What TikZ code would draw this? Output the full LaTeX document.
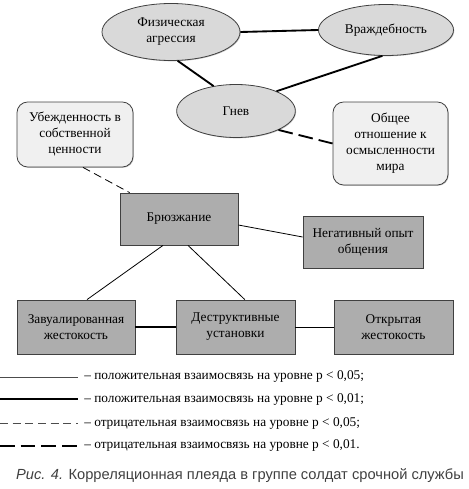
\documentclass[tikz,border=0pt]{standalone}
\usepackage{fontspec}
\setmainfont{Liberation Serif}
\newfontfamily\capfont{Liberation Sans}
\usetikzlibrary{shapes.geometric,shadows}
\begin{document}
\begin{tikzpicture}[x=0.75pt,y=-0.75pt,
 every node/.style={font=\fontsize{10}{12}\selectfont, align=center, inner sep=0pt},
 ell/.style={ellipse, draw=black!75, fill=black!15, line width=0.6pt,
   drop shadow={shadow xshift=0.6pt,shadow yshift=-0.6pt,fill=black!45}},
 soft/.style={rectangle, rounded corners=8pt, draw=black!75, fill=black!6, line width=0.6pt,
   drop shadow={shadow xshift=0.6pt,shadow yshift=-0.6pt,fill=black!45}},
 hard/.style={rectangle, draw=black!75, fill=black!32, line width=0.6pt,
   drop shadow={shadow xshift=0.6pt,shadow yshift=-0.6pt,fill=black!55}},
 pos1/.style={line width=0.6pt},
 pos2/.style={line width=1.4pt},
 neg1/.style={line width=0.6pt, dash pattern=on 6pt off 3.5pt},
 neg2/.style={line width=1.4pt, dash pattern=on 11pt off 4.5pt},
 lbl/.style={anchor=west, font=\fontsize{10}{12}\selectfont}
]
\useasboundingbox (0,0) rectangle (468,489);
% nodes
\node[ell, minimum width=103.5pt, minimum height=42.75pt] (fiz) at (171,32) {Физическая\\агрессия};
\node[ell, minimum width=101.25pt, minimum height=38.25pt] (vrazh) at (386,30) {Враждебность};
\node[ell, minimum width=89pt, minimum height=39.75pt] (gnev) at (236,111) {Гнев};
\node[soft, minimum width=87pt, minimum height=48.75pt] (ubezh) at (75,134.5) {Убежденность в\\собственной\\ценности};
\node[soft, minimum width=86.25pt, minimum height=62.25pt] (obsh) at (390.5,143.5) {Общее\\отношение к\\осмысленности\\мира};
\node[hard, minimum width=88.5pt, minimum height=39pt] (bruzh) at (179,219) {Брюзжание};
\node[hard, minimum width=90pt, minimum height=39pt] (neg) at (363,242) {Негативный опыт\\общения};
\node[hard, minimum width=88.5pt, minimum height=40.5pt] (zav) at (76,327) {Завуалированная\\жестокость};
\node[hard, minimum width=89.25pt, minimum height=40.5pt] (destr) at (235.5,327) {Деструктивные\\установки};
\node[hard, minimum width=89.25pt, minimum height=40.5pt] (otkr) at (393.5,327) {Открытая\\жестокость};
% connectors
\draw[pos2] (fiz.east) -- (vrazh.west);
\draw[pos2] (fiz.-77) -- (gnev.132);
\draw[pos2] (vrazh.-98) -- (gnev.26);
\draw[neg2] (gnev.-24) -- (obsh.west);
\draw[neg1] ([xshift=6pt]ubezh.south) -- ([xshift=7.5pt]bruzh.north west);
\draw[pos1] ([yshift=-4.5pt]bruzh.east) -- ([yshift=3.75pt]neg.west);
\draw[pos1] ([xshift=-12pt]bruzh.south) -- ([xshift=8.25pt]zav.north);
\draw[pos1] ([xshift=6.75pt]bruzh.south) -- ([xshift=7pt]destr.north);
\draw[pos2] (zav.east) -- (destr.west);
\draw[pos1] (destr.east) -- (otkr.west);
% legend
\coordinate (a1) at (0,377); \coordinate (b1) at (78,377);
\coordinate (a2) at (0,399); \coordinate (b2) at (78,399);
\coordinate (a3) at (0,423); \coordinate (b3) at (78,423);
\coordinate (a4) at (0,446); \coordinate (b4) at (78,446);
\draw[line width=0.5pt, black!70] (a1) -- (b1);
\draw[pos2] (a2) -- (b2);
\draw[neg1, line width=0.5pt, black!70] (a3) -- (b3);
\draw[neg2] (a4) -- (b4);
\node[lbl] (t1) at (84,377) {– положительная взаимосвязь на уровне р < 0,05;};
\node[lbl] (t2) at (84,399) {– положительная взаимосвязь на уровне р < 0,01;};
\node[lbl] (t3) at (84,423) {– отрицательная взаимосвязь на уровне р < 0,05;};
\node[lbl] (t4) at (84,446) {– отрицательная взаимосвязь на уровне р < 0,01.};
\node[font=\capfont\fontsize{11}{13}\selectfont, text=black!75] (cap) at (240,476) {\textit{Рис. 4.} Корреляционная плеяда в группе солдат срочной службы};
\end{tikzpicture}
\end{document}
